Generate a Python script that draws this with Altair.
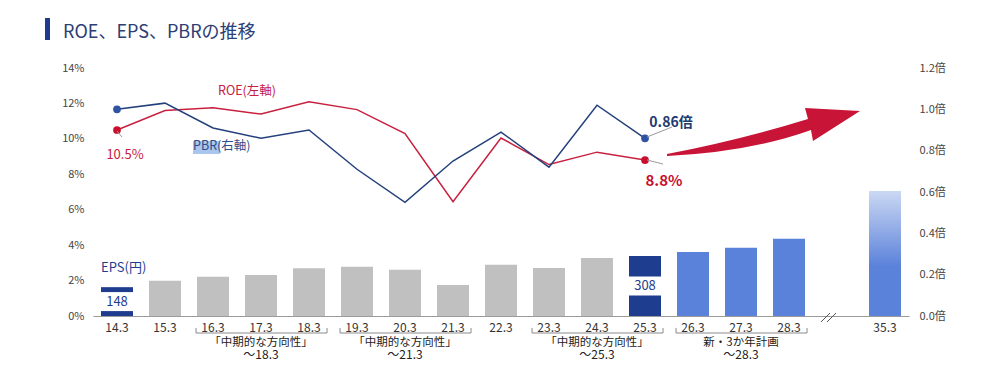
import altair as alt
import pandas as pd

# ---------------- data ----------------
years = ["14.3", "15.3", "16.3", "17.3", "18.3", "19.3", "20.3", "21.3",
         "22.3", "23.3", "24.3", "25.3", "26.3", "27.3", "28.3", "35.3"]
slots = years[:15] + ["gap"] + ["35.3"]
eps = [148, 181, 202, 210, 245, 253, 238, 159, 263, 246, 298, 308, 328, 350, 397, 641]
bar_colors = ["#1f3d8f"] + ["#c0c0c0"] * 10 + ["#1f3d8f"] + ["#5b82da"] * 3 + ["gradient"]

line_years = years[:12]
roe = [10.5, 11.6, 11.75, 11.4, 12.1, 11.65, 10.3, 6.45, 10.05, 8.55, 9.25, 8.8]
pbr = [1.00, 1.03, 0.91, 0.86, 0.90, 0.71, 0.55, 0.75, 0.89, 0.72, 1.02, 0.86]

key_years = ["14.3", "25.3"]
key_eps = [148, 308]
key_roe = [10.5, 8.8]
key_pbr = [1.00, 0.86]

grp_start = ["16.3", "19.3", "23.3", "26.3"]
grp_end = ["18.3", "21.3", "25.3", "28.3"]
grp_mid = ["17.3", "20.3", "24.3", "27.3"]
grp_line1 = ["「中期的な方向性」", "「中期的な方向性」", "「中期的な方向性」", "新・3か年計画"]
grp_line2 = ["～18.3", "～21.3", "～25.3", "～28.3"]

roe_ticks = [0, 2, 4, 6, 8, 10, 12, 14]
pbr_ticks = [0.0, 0.2, 0.4, 0.6, 0.8, 1.0, 1.2]

# ---------------- tables ----------------
df_bars = pd.DataFrame({"year": years, "eps": eps, "color": bar_colors})
df_main = df_bars[df_bars["color"] != "gradient"]
df_grad = df_bars[df_bars["color"] == "gradient"]
df_key = pd.DataFrame({"year": key_years, "eps": key_eps, "roe": key_roe, "pbr": key_pbr,
                       "label": [str(v) for v in key_eps]})
df_lines = pd.DataFrame({"year": line_years, "roe": roe, "pbr": pbr})
df_grp = pd.DataFrame({"start": grp_start, "end": grp_end, "mid": grp_mid,
                       "l1": grp_line1, "l2": grp_line2})
one = pd.DataFrame({"a": [0]})

RED = "#c8203f"
NAVY = "#24407c"

xscale = alt.Scale(domain=slots, paddingInner=1 / 3, paddingOuter=1 / 6)
xaxis = alt.Axis(title=None, labelAngle=0, ticks=False, labelPadding=6, labelFontSize=12,
                 labelColor="#333333", domainColor="#9a9a9a", labelOverlap=False,
                 labelExpr="datum.value == 'gap' ? '' : datum.value")
X = alt.X("year:N", scale=xscale, axis=xaxis)
Xn = alt.X("year:N", scale=xscale)

eps_scale = alt.Scale(domain=[0, 1273])
roe_scale = alt.Scale(domain=[0, 14])
pbr_scale = alt.Scale(domain=[0, 1.2])

# ---------------- EPS bars ----------------
bars = alt.Chart(df_main).mark_bar(opacity=1).encode(
    x=X, y=alt.Y("eps:Q", scale=eps_scale, axis=None),
    color=alt.Color("color:N", scale=None))
grad_bar = alt.Chart(df_grad).mark_bar(opacity=1, color=alt.LinearGradient(
    gradient="linear",
    stops=[alt.GradientStop(color="#cbd8f3", offset=0),
           alt.GradientStop(color="#5b82da", offset=0.6),
           alt.GradientStop(color="#5b82da", offset=1)],
    x1=0, x2=0, y1=0, y2=1)).encode(
    x=Xn, y=alt.Y("eps:Q", scale=eps_scale, axis=None))
boxes = alt.Chart(df_key).transform_calculate(mid="datum.eps / 2").mark_tick(
    color="white", thickness=19, size=32, opacity=1).encode(
    x=Xn, y=alt.Y("mid:Q", scale=eps_scale, axis=None))
box_text = alt.Chart(df_key).transform_calculate(mid="datum.eps / 2").mark_text(
    fontSize=13, color="#1f3d8f", baseline="middle").encode(
    x=Xn, y=alt.Y("mid:Q", scale=eps_scale, axis=None), text="label:N")
eps_layer = alt.layer(bars, grad_bar, boxes, box_text)

# ---------------- ROE ----------------
left_axis = alt.Axis(title=None, orient="left", values=roe_ticks, grid=False, domain=False,
                     ticks=False, labelPadding=9, labelFontSize=11, labelColor="#444444",
                     labelOverlap=False, labelExpr="datum.value + '%'")
roe_line = alt.Chart(df_lines).mark_line(color=RED, strokeWidth=1.5).encode(
    x=Xn, y=alt.Y("roe:Q", scale=roe_scale, axis=left_axis))
roe_dots = alt.Chart(df_key).mark_circle(size=60, color="#c8102e", opacity=1).encode(
    x=Xn, y=alt.Y("roe:Q", scale=roe_scale, axis=left_axis))
roe_first_pct = alt.Chart(df_key.iloc[[0]]).transform_calculate(
    t="format(datum.roe, '.1f') + '%'").mark_text(
    fontSize=13, color=RED, dx=8, dy=25).encode(
    x=Xn, y=alt.Y("roe:Q", scale=roe_scale, axis=left_axis), text="t:N")
roe_last = alt.Chart(df_key.iloc[[1]]).transform_calculate(
    t="format(datum.roe, '.1f') + '%'").mark_text(
    fontSize=15, fontWeight="bold", color="#c8102e", dx=19, dy=21).encode(
    x=Xn, y=alt.Y("roe:Q", scale=roe_scale, axis=left_axis), text="t:N")
roe_layer = alt.layer(roe_line, roe_dots, roe_first_pct, roe_last)

# ---------------- PBR ----------------
right_axis = alt.Axis(title=None, orient="right", values=pbr_ticks, grid=False, domain=False,
                      ticks=False, labelPadding=10, labelFontSize=11, labelColor="#444444",
                      labelOverlap=False, labelExpr="format(datum.value, '.1f') + '倍'")
pbr_line = alt.Chart(df_lines).mark_line(color=NAVY, strokeWidth=1.5).encode(
    x=Xn, y=alt.Y("pbr:Q", scale=pbr_scale, axis=right_axis))
pbr_dots = alt.Chart(df_key).mark_circle(size=60, color="#2f52a3", opacity=1).encode(
    x=Xn, y=alt.Y("pbr:Q", scale=pbr_scale, axis=right_axis))
pbr_last = alt.Chart(df_key.iloc[[1]]).transform_calculate(
    t="format(datum.pbr, '.2f') + '倍'").mark_text(
    fontSize=14, fontWeight="bold", color="#1f3a70", dx=26, dy=-15).encode(
    x=Xn, y=alt.Y("pbr:Q", scale=pbr_scale, axis=right_axis), text="t:N")
pbr_layer = alt.layer(pbr_line, pbr_dots, pbr_last)

# ---------------- group brackets ----------------
g = alt.Chart(df_grp)
br_h = g.mark_rule(color="#8a8a8a", strokeWidth=1, xOffset=-1, x2Offset=2).encode(
    x=alt.X("start:N", scale=xscale, bandPosition=0),
    x2=alt.X2("end:N", bandPosition=1),
    y=alt.value(265))
br_l = g.mark_rule(color="#8a8a8a", strokeWidth=1, xOffset=-1).encode(
    x=alt.X("start:N", scale=xscale, bandPosition=0), y=alt.value(260), y2=alt.value(265))
br_r = g.mark_rule(color="#8a8a8a", strokeWidth=1, xOffset=2).encode(
    x=alt.X("end:N", scale=xscale, bandPosition=1), y=alt.value(260), y2=alt.value(265))
gl1 = g.mark_text(fontSize=11.5, color="#222222", baseline="alphabetic").encode(
    x=alt.X("mid:N", scale=xscale, bandPosition=0.5), y=alt.value(278), text="l1:N")
gl2 = g.mark_text(fontSize=12, color="#222222", baseline="alphabetic").encode(
    x=alt.X("mid:N", scale=xscale, bandPosition=0.5), y=alt.value(291), text="l2:N")

# ---------------- decorations ----------------
d = alt.Chart(one)
title_bar = d.mark_rect(color="#1f3c8c").encode(
    x=alt.value(-48), x2=alt.value(-43), y=alt.value(-50), y2=alt.value(-28))
title_txt = d.mark_text(text="ROE、EPS、PBRの推移", fontSize=18, color="#2c3e74",
                        align="left", baseline="alphabetic").encode(
    x=alt.value(-30), y=alt.value(-30))
arrow_path = ("M -1 0.233 Q -0.244 0.088 0.461 -0.13 L 0.43 -0.244 L 1 -0.212 "
              "L 0.513 0.098 L 0.492 -0.016 Q -0.14 0.212 -1 0.254 Z")
arrow = d.mark_point(shape=arrow_path, filled=True, fill="#c81436", strokeWidth=0,
                     size=37249, opacity=1).encode(x=alt.value(670.5), y=alt.value(63.5))
lead1 = d.mark_rule(color="#9a9a9a", strokeWidth=1).encode(
    x=alt.value(24), y=alt.value(63), x2=alt.value(29), y2=alt.value(69))
lead2 = d.mark_rule(color="#9a9a9a", strokeWidth=1).encode(
    x=alt.value(554), y=alt.value(92), x2=alt.value(570), y2=alt.value(96))
lead3 = d.mark_rule(color="#9a9a9a", strokeWidth=1).encode(
    x=alt.value(554), y=alt.value(69), x2=alt.value(579), y2=alt.value(59))
roe_lab = d.mark_text(text="ROE(左軸)", fontSize=12.5, color=RED, align="left",
                      baseline="alphabetic").encode(x=alt.value(125), y=alt.value(27))
hl = d.mark_rect(color="#a9c7ee").encode(
    x=alt.value(100), x2=alt.value(127), y=alt.value(73), y2=alt.value(86))
pbr_lab = d.mark_text(text="PBR(右軸)", fontSize=12.5, color="#2f4d8c", align="left",
                      baseline="alphabetic").encode(x=alt.value(100), y=alt.value(82))
eps_lab = d.mark_text(text="EPS(円)", fontSize=13, color="#1f3d8f", align="left",
                      baseline="alphabetic").encode(x=alt.value(8), y=alt.value(204))
brk1 = d.mark_rule(color="#555555", strokeWidth=1).encode(
    x=alt.value(728), y=alt.value(254), x2=alt.value(737), y2=alt.value(245))
brk2 = d.mark_rule(color="#555555", strokeWidth=1).encode(
    x=alt.value(734), y=alt.value(254), x2=alt.value(743), y2=alt.value(245))

chart = alt.layer(
    eps_layer, roe_layer, pbr_layer,
    br_h, br_l, br_r, gl1, gl2,
    title_bar, title_txt, arrow, lead1, lead2, lead3, roe_lab, hl, pbr_lab, eps_lab,
    brk1, brk2,
).resolve_scale(y="independent").properties(
    width=816, height=248,
    autosize=alt.AutoSizeParams(type="none"),
    padding={"left": 85, "top": 60, "right": 82, "bottom": 45},
).configure(font="Noto Sans CJK JP").configure_view(stroke=None)

chart.save("out.html", embed_options={"renderer": "svg", "actions": False})
